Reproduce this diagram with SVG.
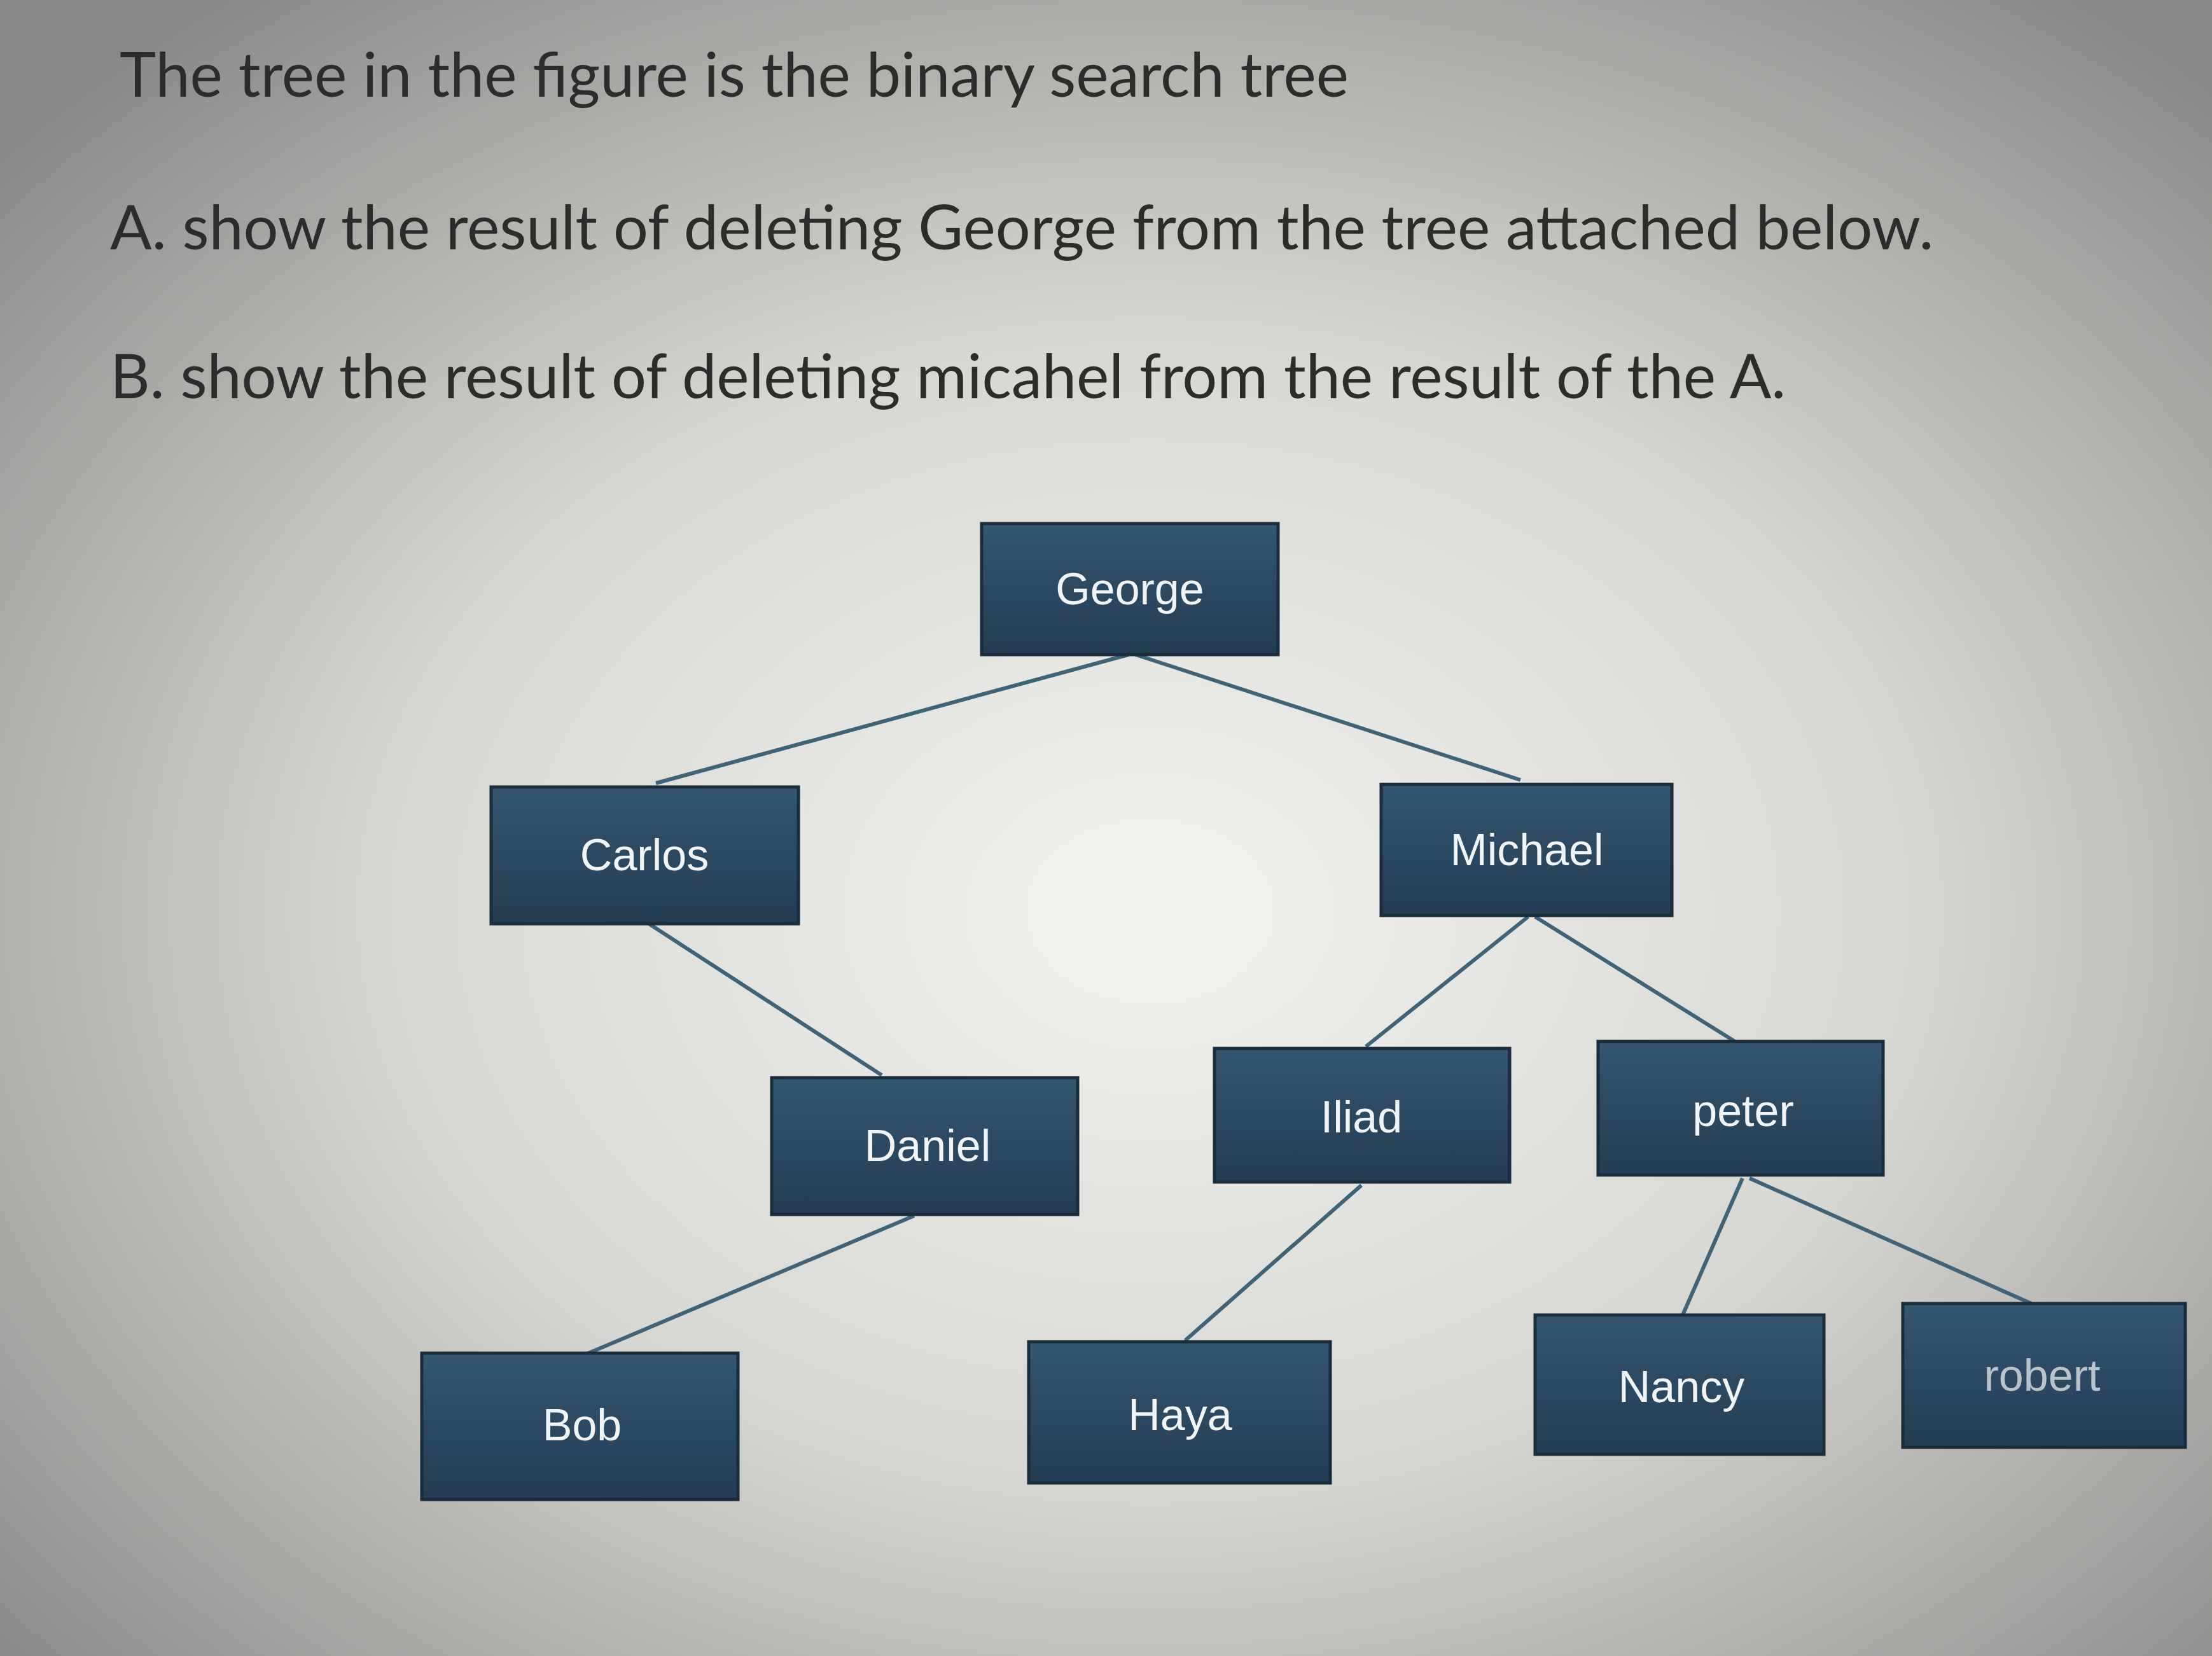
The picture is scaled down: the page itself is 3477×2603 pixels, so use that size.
<svg xmlns="http://www.w3.org/2000/svg" width="3477" height="2603" viewBox="0 0 3477 2603">
<defs>
<radialGradient id="bg" cx="0.52" cy="0.55" r="0.7">
<stop offset="0" stop-color="#f2f4f0"/>
<stop offset="0.5" stop-color="#d6d6d3"/>
<stop offset="1" stop-color="#8a8886"/>
</radialGradient>
<linearGradient id="nf" x1="0" y1="0" x2="0" y2="1">
<stop offset="0" stop-color="#34566f"/>
<stop offset="1" stop-color="#223d53"/>
</linearGradient>
</defs>
<style>
.q{font-family:"Lato","Liberation Sans",sans-serif;font-size:97px;fill:#2e2c2a}
.n{fill:url(#nf);stroke:#1a2d3c;stroke-width:5}
.t{font-family:"Liberation Sans",sans-serif;font-size:70px;fill:#f0f4f6;text-anchor:middle;dominant-baseline:central}
.e{stroke:#3f6377;stroke-width:6;fill:none}
</style>
<rect width="3477" height="2603" fill="url(#bg)"/>
<text class="q" x="188" y="152">The tree in the figure is the binary search tree</text>
<text class="q" x="173" y="392">A. show the result of deleting George from the tree attached below.</text>
<text class="q" x="173" y="626">B. show the result of deleting micahel from the result of the A.</text>
<g id="connectors">
<line class="e" x1="1774" y1="1029" x2="1031" y2="1231"/>
<line class="e" x1="1785" y1="1029" x2="2390" y2="1226"/>
<line class="e" x1="1020" y1="1452" x2="1386" y2="1690"/>
<line class="e" x1="1437" y1="1911" x2="920" y2="2129"/>
<line class="e" x1="2402" y1="1441" x2="2147" y2="1645"/>
<line class="e" x1="2413" y1="1441" x2="2727" y2="1637"/>
<line class="e" x1="2140" y1="1863" x2="1863" y2="2107"/>
<line class="e" x1="2739" y1="1852" x2="2645" y2="2067"/>
<line class="e" x1="2750" y1="1852" x2="3193" y2="2049"/>
</g>
<g id="george"><rect class="n" x="1543" y="823" width="466" height="206"/><text class="t" x="1776" y="926">George</text></g>
<g id="carlos"><rect class="n" x="772" y="1237" width="483" height="215"/><text class="t" x="1013" y="1344">Carlos</text></g>
<g id="michael"><rect class="n" x="2171" y="1233" width="457" height="206"/><text class="t" x="2400" y="1336">Michael</text></g>
<g id="daniel"><rect class="n" x="1213" y="1694" width="481" height="215"/><text class="t" x="1458" y="1801">Daniel</text></g>
<g id="iliad"><rect class="n" x="1909" y="1648" width="464" height="210"/><text class="t" x="2140" y="1756">Iliad</text></g>
<g id="peter"><rect class="n" x="2512" y="1637" width="448" height="210"/><text class="t" x="2740" y="1746">peter</text></g>
<g id="bob"><rect class="n" x="663" y="2127" width="497" height="230"/><text class="t" x="915" y="2240">Bob</text></g>
<g id="haya"><rect class="n" x="1617" y="2109" width="474" height="222"/><text class="t" x="1855" y="2224">Haya</text></g>
<g id="nancy"><rect class="n" x="2413" y="2067" width="454" height="219"/><text class="t" x="2643" y="2180">Nancy</text></g>
<g id="robert"><rect class="n" x="2991" y="2049" width="444" height="226"/><text class="t" x="3210" y="2162" style="fill:#b8c4cc">robert</text></g>
</svg>
